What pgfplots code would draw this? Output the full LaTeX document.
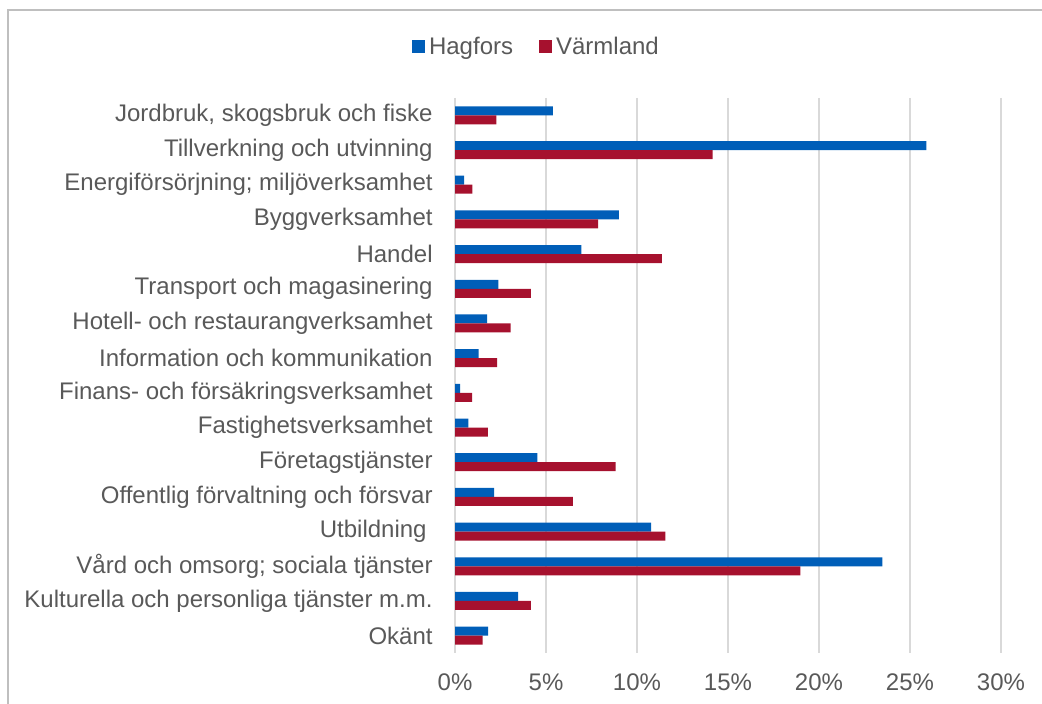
\documentclass[border=0pt]{standalone}
\usepackage{fontspec}
\setmainfont{Liberation Sans}
\usepackage{pgfplots}
\pgfplotsset{compat=1.18}
\definecolor{cHag}{HTML}{005EB8}
\definecolor{cVar}{HTML}{A6112E}
\definecolor{cTxt}{HTML}{595959}
\definecolor{cGrid}{HTML}{D9D9D9}
\definecolor{cFrame}{HTML}{BFBFBF}

\begin{document}
\begin{tikzpicture}
\begin{axis}[scale only axis, width=273pt, height=277.5pt,
  at={(227.5pt,25.5pt)}, anchor=south west,
  xbar, bar width=4.5pt,
  xmin=0, xmax=30, ymin=-0.5, ymax=15.5, y dir=reverse,
  xtick={0,5,10,15,20,25,30}, xticklabels={0\%,5\%,10\%,15\%,20\%,25\%,30\%},
  ytick={0,...,15},
  yticklabels={{Jordbruk, skogsbruk och fiske}, Tillverkning och utvinning,
    Energiförsörjning; miljöverksamhet, Byggverksamhet, Handel,
    Transport och magasinering, Hotell- och restaurangverksamhet,
    Information och kommunikation, Finans- och försäkringsverksamhet,
    Fastighetsverksamhet, Företagstjänster, Offentlig förvaltning och försvar,
    Utbildning\kern3pt, Vård och omsorg; sociala tjänster,
    Kulturella och personliga tjänster m.m., Okänt},
  major tick length=0pt, axis line style={draw=none},
  xmajorgrids, grid style={cGrid, line width=1pt},
  tick label style={font=\fontsize{12}{14}\selectfont, text=cTxt, inner sep=0pt},
  yticklabel style={anchor=east, xshift=-11pt},
  xticklabel style={anchor=north, yshift=-10pt},
  legend columns=-1,
  legend style={draw=none, fill=none, font=\fontsize{12}{14}\selectfont,
    text=cTxt, at={(axis description cs:0.151,1.092)}, anchor=center,
    /tikz/every even column/.append style={column sep=11pt}},
  legend image code/.code={\fill[#1, draw=none] (0pt,-3.25pt) rectangle (6.5pt,3.25pt);},
]
\addplot[fill=cHag, draw=none, bar shift=2.25pt] coordinates {
  (5.38,0) (25.9,1) (0.5,2) (9.0,3) (6.95,4) (2.38,5) (1.76,6) (1.3,7)
  (0.28,8) (0.73,9) (4.53,10) (2.15,11) (10.77,12) (23.48,13) (3.47,14) (1.82,15)};
\addlegendentry{Hagfors}
\addplot[fill=cVar, draw=none, bar shift=-2.25pt] coordinates {
  (2.27,0) (14.16,1) (0.95,2) (7.87,3) (11.37,4) (4.17,5) (3.05,6) (2.31,7)
  (0.94,8) (1.8,9) (8.82,10) (6.48,11) (11.56,12) (18.97,13) (4.17,14) (1.52,15)};
\addlegendentry{Värmland}
\end{axis}
\draw[cFrame, line width=1pt] (4pt,-1pt) -- (4pt,347pt) -- (523pt,347pt);
\pgfresetboundingbox
\path[use as bounding box] (0,0) rectangle (521pt,352pt);
\end{tikzpicture}
\end{document}
